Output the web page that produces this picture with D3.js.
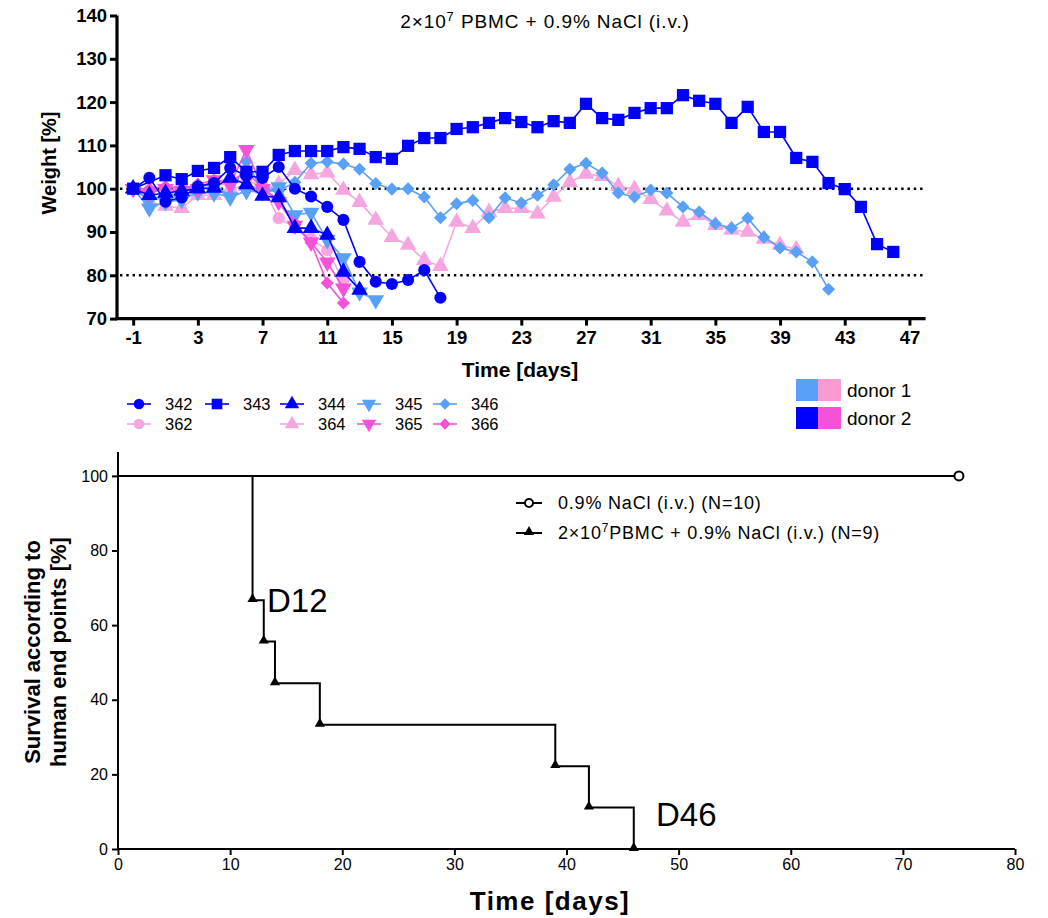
<!DOCTYPE html>
<html>
<head>
<meta charset="utf-8">
<title>Weight and survival</title>
<script src="https://cdn.jsdelivr.net/npm/d3@7"></script>
<style>
  body { margin: 0; background: #fff; }
  svg text { font-family: "Liberation Sans", Arial, sans-serif; fill: #000; }
</style>
</head>
<body>
<svg id="chart" width="1048" height="918"></svg>
<script>
// weight per mouse: [day, weight %]
const m342 = [[-1,100],[0,102.5],[1,97],[2,98],[3,100.5],[4,101.3],[5,104.8],[6,103],[7,102.5],[8,105],[9,100],[10,98.2],[11,95.8],[12,92.8],[13,83.1],[14,78.5],[15,78],[16,78.9],[17,81.2],[18,74.8]];
const m343 = [[-1,100],[1,103.1],[2,102.2],[3,104.1],[4,104.8],[5,107.3],[6,103.9],[7,103.9],[8,107.8],[9,108.7],[10,108.7],[11,108.7],[12,109.6],[13,109.2],[14,107.3],[15,106.9],[16,109.9],[17,111.7],[18,111.7],[19,113.8],[20,114.2],[21,115.2],[22,116.3],[23,115.4],[24,114.2],[25,115.6],[26,115.2],[27,119.6],[28,116.3],[29,115.9],[30,117.5],[31,118.6],[32,118.6],[33,121.6],[34,120.3],[35,119.6],[36,115.2],[37,118.9],[38,113.1],[39,113.1],[40,107.1],[41,106.2],[42,101.3],[43,99.9],[44,95.8],[45,87.2],[46,85.4]];
const m344 = [[-1,100],[0,98.5],[1,99],[2,99.5],[3,100],[4,100.2],[5,102.5],[6,101],[7,98.3],[8,98],[9,90.9],[10,90.9],[11,89.3],[12,80.8],[13,76.6]];
const m345 = [[-1,100],[0,95.5],[1,97],[2,97.4],[3,99.2],[4,99],[5,98],[6,99.5],[7,99.2],[8,100.4],[9,93.9],[10,94.5],[11,88.2],[12,84],[13,76.1],[14,74.3]];
const m346 = [[-1,100],[0,97.5],[1,98.5],[2,99],[3,101],[4,100.5],[5,98.5],[6,106.3],[7,99.5],[8,99.5],[9,101.5],[10,105.9],[11,106.2],[12,105.7],[13,104.5],[14,101.2],[15,99.9],[16,100],[17,98.1],[18,93.3],[19,96.5],[20,97.3],[21,93.3],[22,97.9],[23,96.7],[24,98.5],[25,100.9],[26,104.5],[27,105.9],[28,103.6],[29,99],[30,98.1],[31,99.7],[32,99],[33,95.8],[34,94.6],[35,91.9],[36,90.9],[37,93.2],[38,88.8],[39,86.3],[40,85.4],[41,83.1],[42,76.8]];
const m362 = [[-1,100],[0,99],[1,100],[2,99],[3,100.5],[4,101],[5,101],[6,102],[7,100.5],[8,93.2],[9,91],[10,88.5],[11,85.8],[12,78.9]];
const m364 = [[-1,100],[0,97],[1,96],[2,95.5],[3,98.5],[4,98.5],[5,100],[6,100.5],[7,100],[8,101],[9,104.3],[10,103.3],[11,103.7],[12,99.7],[13,96.9],[14,92.8],[15,88.8],[16,87],[17,83.5],[18,82.1],[19,92.3],[20,90.9],[21,94.6],[22,95.5],[23,95.5],[24,94.2],[25,98.1],[26,101.5],[27,103.4],[28,102.9],[29,100.6],[30,99.9],[31,97.6],[32,94.9],[33,92.3],[34,93.9],[35,91.6],[36,90.5],[37,90],[38,88.4],[39,87],[40,86]];
const m365 = [[-1,100],[0,99],[1,100],[2,99.5],[3,100],[4,102],[5,101],[6,109],[7,100],[8,97],[9,91.5],[10,87.6],[11,83],[12,77]];
const m366 = [[-1,100],[0,100],[1,100.5],[2,100],[3,101],[4,102],[5,101.5],[6,104],[7,100],[8,97.5],[9,92],[10,87.5],[11,78.2],[12,73.6]];

const weightTicks = [70, 80, 90, 100, 110, 120, 130, 140];
const dayTicks = [-1, 3, 7, 11, 15, 19, 23, 27, 31, 35, 39, 43, 47];
const refLines = [100, 80];

// survival (Kaplan-Meier steps)
const survDaysNaCl = [0, 75];
const survNaCl = [100, 100];
const survDaysPBMC = [0, 12, 13, 14, 18, 39, 42, 46];
const survPBMC = [100, 66.7, 55.6, 44.4, 33.3, 22.2, 11.1, 0];
const survXTicks = [0, 10, 20, 30, 40, 50, 60, 70, 80];
const survYTicks = [0, 20, 40, 60, 80, 100];

const d1Blue = "#58a0f8", d1Pink = "#f6a6df", d2Blue = "#0000ff", d2Pink = "#f552da";

const mice = [
  {id: "342", data: m342, color: d2Blue, shape: "circle", col: 0, row: 0},
  {id: "343", data: m343, color: d2Blue, shape: "square", col: 1, row: 0},
  {id: "344", data: m344, color: d2Blue, shape: "up", col: 2, row: 0},
  {id: "345", data: m345, color: d1Blue, shape: "down", col: 3, row: 0},
  {id: "346", data: m346, color: d1Blue, shape: "diamond", col: 4, row: 0},
  {id: "362", data: m362, color: d1Pink, shape: "circle", col: 0, row: 1},
  {id: "364", data: m364, color: d1Pink, shape: "up", col: 2, row: 1},
  {id: "365", data: m365, color: d2Pink, shape: "down", col: 3, row: 1},
  {id: "366", data: m366, color: d2Pink, shape: "diamond", col: 4, row: 1}
];

const svg = d3.select("#chart");

function symbolPath(shape, k) {
  k = k || 1;
  if (shape === "circle") return d3.symbol(d3.symbolCircle, 115 * k)();
  if (shape === "square") return d3.symbol(d3.symbolSquare, 150 * k)();
  if (shape === "diamond") return d3.symbol(d3.symbolSquare, 85 * k)();
  return d3.symbol(d3.symbolTriangle, 120 * k)();
}
function symbolRot(shape) {
  if (shape === "down") return 180;
  if (shape === "diamond") return 45;
  return 0;
}

// ---------- top chart: weight ----------
const x = d3.scaleLinear().domain([-2, 48]).range([117, 925.6]);
const y = d3.scaleLinear().domain([70, 140]).range([318.6, 15.5]);

const topG = svg.append("g");

topG.selectAll(".ref").data(refLines).enter().append("line")
  .attr("x1", 120).attr("x2", 925)
  .attr("y1", d => y(d)).attr("y2", d => y(d))
  .attr("stroke", "#000").attr("stroke-width", 2.6)
  .attr("stroke-dasharray", "2.4 3.9");

const line = d3.line().x(d => x(d[0])).y(d => y(d[1]));

const drawOrder = ["364", "362", "346", "345", "366", "365", "344", "342", "343"];
drawOrder.forEach(id => {
  const m = mice.find(s => s.id === id);
  const g = topG.append("g");
  g.append("path").datum(m.data).attr("d", line)
    .attr("fill", "none").attr("stroke", m.color).attr("stroke-width", 1.6);
  g.selectAll("path.pt").data(m.data).enter().append("path")
    .attr("class", "pt")
    .attr("d", symbolPath(m.shape))
    .attr("transform", d => `translate(${x(d[0])},${y(d[1])}) rotate(${symbolRot(m.shape)})`)
    .attr("fill", m.color);
});

const xAxisTop = topG.append("g").attr("transform", "translate(0,318.6)")
  .call(d3.axisBottom(x).tickValues(dayTicks).tickSize(7).tickSizeOuter(0).tickPadding(5).tickFormat(d => String(d)));
const yAxisTop = topG.append("g").attr("transform", "translate(117,0)")
  .call(d3.axisLeft(y).tickValues(weightTicks).tickSize(7).tickSizeOuter(0).tickPadding(3));
[xAxisTop, yAxisTop].forEach(a => {
  a.select(".domain").attr("stroke-width", 3.2);
  a.selectAll(".tick line").attr("stroke-width", 3);
  a.selectAll(".tick text").attr("font-size", 18.5).attr("font-weight", "bold")
    .attr("font-family", "Liberation Sans, Arial, sans-serif").attr("fill", "#000");
});
xAxisTop.select(".domain").attr("d", "M115.5,0H925.6");
yAxisTop.select(".domain").attr("d", "M0,15.5V320");

topG.append("text").attr("x", 520).attr("y", 377).attr("text-anchor", "middle")
  .attr("font-size", 21).attr("font-weight", "bold").text("Time [days]");
topG.append("text").attr("transform", "translate(56,163) rotate(-90)").attr("text-anchor", "middle")
  .attr("font-size", 20).attr("font-weight", "bold").text("Weight [%]");

const title = topG.append("text").attr("x", 545).attr("y", 28).attr("text-anchor", "middle")
  .attr("font-size", 19).attr("letter-spacing", 0.9);
title.append("tspan").text("2\u00d710");
title.append("tspan").attr("dy", -7).attr("font-size", 13).text("7");
title.append("tspan").attr("dy", 7).text(" PBMC + 0.9% NaCl (i.v.)");

// mouse legend
const colX = [127, 205, 280, 357, 433];
const rowY = [404, 424];
const leg = topG.append("g");
mice.forEach(m => {
  const lx = colX[m.col], ly = rowY[m.row];
  leg.append("line").attr("x1", lx).attr("x2", lx + 24).attr("y1", ly).attr("y2", ly)
    .attr("stroke", m.color).attr("stroke-width", 1.6);
  leg.append("path").attr("d", symbolPath(m.shape, 0.75))
    .attr("transform", `translate(${lx + 12},${ly}) rotate(${symbolRot(m.shape)})`)
    .attr("fill", m.color);
  leg.append("text").attr("x", lx + 38).attr("y", ly + 6).attr("font-size", 16.5).text(m.id);
});

// donor legend
const donors = [{name: "donor 1", c1: d1Blue, c2: "#f99ad2"}, {name: "donor 2", c1: d2Blue, c2: d2Pink}];
donors.forEach((d, i) => {
  const yy = 379 + i * 28;
  leg.append("rect").attr("x", 796).attr("y", yy).attr("width", 22).attr("height", 22).attr("fill", d.c1);
  leg.append("rect").attr("x", 818).attr("y", yy).attr("width", 23).attr("height", 22).attr("fill", d.c2);
  leg.append("text").attr("x", 847).attr("y", yy + 18).attr("font-size", 19).text(d.name);
});

// ---------- bottom chart: survival ----------
const sx = d3.scaleLinear().domain([0, 80]).range([118, 1015]);
const sy = d3.scaleLinear().domain([0, 106.4]).range([849, 452]);

const bot = svg.append("g");

const step = d3.line().x(d => sx(d[0])).y(d => sy(d[1])).curve(d3.curveStepAfter);
const nacl = survDaysNaCl.map((d, i) => [d, survNaCl[i]]);
const pbmc = survDaysPBMC.map((d, i) => [d, survPBMC[i]]);

bot.append("path").datum(nacl).attr("d", step).attr("fill", "none").attr("stroke", "#000").attr("stroke-width", 2);
bot.append("path").datum(pbmc).attr("d", step).attr("fill", "none").attr("stroke", "#000").attr("stroke-width", 2);

bot.selectAll("circle.end").data(nacl.slice(-1)).enter().append("circle")
  .attr("cx", d => sx(d[0])).attr("cy", d => sy(d[1])).attr("r", 4.5)
  .attr("fill", "#fff").attr("stroke", "#000").attr("stroke-width", 2);
bot.selectAll("path.tri").data(pbmc.slice(1)).enter().append("path")
  .attr("d", d3.symbol(d3.symbolTriangle, 45)())
  .attr("transform", d => `translate(${sx(d[0])},${sy(d[1]) - 1})`)
  .attr("fill", "#000");

const xAxisBot = bot.append("g").attr("transform", "translate(0,849)")
  .call(d3.axisBottom(sx).tickValues(survXTicks).tickSize(6).tickSizeOuter(0).tickPadding(4));
const yAxisBot = bot.append("g").attr("transform", "translate(118,0)")
  .call(d3.axisLeft(sy).tickValues(survYTicks).tickSize(6).tickSizeOuter(0).tickPadding(4));
[xAxisBot, yAxisBot].forEach(a => {
  a.select(".domain").attr("stroke-width", 2);
  a.selectAll(".tick line").attr("stroke-width", 2);
  a.selectAll(".tick text").attr("font-size", 16)
    .attr("font-family", "Liberation Sans, Arial, sans-serif").attr("fill", "#000");
});
xAxisBot.select(".domain").attr("d", "M117,0H1015");
yAxisBot.select(".domain").attr("d", "M0,452V850");

bot.append("text").attr("x", 550).attr("y", 910).attr("text-anchor", "middle")
  .attr("font-size", 26).attr("font-weight", "bold").attr("letter-spacing", 1.5).text("Time [days]");
const yl = bot.append("text").attr("transform", "translate(40,652) rotate(-90)").attr("text-anchor", "middle")
  .attr("font-size", 22).attr("font-weight", "bold");
yl.append("tspan").attr("x", 0).attr("dy", 0).text("Survival according to");
yl.append("tspan").attr("x", 0).attr("dy", 26).text("human end points [%]");

// annotations
bot.append("text").attr("x", 267).attr("y", 612).attr("font-size", 33)
  .attr("font-family", "Open Sans, sans-serif").text("D12");
bot.append("text").attr("x", 656).attr("y", 826).attr("font-size", 33)
  .attr("font-family", "Open Sans, sans-serif").text("D46");

// survival legend
const sl = bot.append("g");
sl.append("line").attr("x1", 516).attr("x2", 542).attr("y1", 503).attr("y2", 503).attr("stroke", "#000").attr("stroke-width", 2);
sl.append("circle").attr("cx", 529).attr("cy", 503).attr("r", 4).attr("fill", "#fff").attr("stroke", "#000").attr("stroke-width", 2);
sl.append("text").attr("x", 558).attr("y", 509).attr("font-size", 18).attr("letter-spacing", 0.8).text("0.9% NaCl (i.v.) (N=10)");
sl.append("line").attr("x1", 516).attr("x2", 542).attr("y1", 533).attr("y2", 533).attr("stroke", "#000").attr("stroke-width", 2);
sl.append("path").attr("d", d3.symbol(d3.symbolTriangle, 45)()).attr("transform", "translate(529,532)").attr("fill", "#000");
const t2 = sl.append("text").attr("x", 558).attr("y", 539).attr("font-size", 18).attr("letter-spacing", 0.8);
t2.append("tspan").text("2\u00d710");
t2.append("tspan").attr("dy", -7).attr("font-size", 12).text("7");
t2.append("tspan").attr("dy", 7).text("PBMC + 0.9% NaCl (i.v.) (N=9)");
</script>
</body>
</html>
